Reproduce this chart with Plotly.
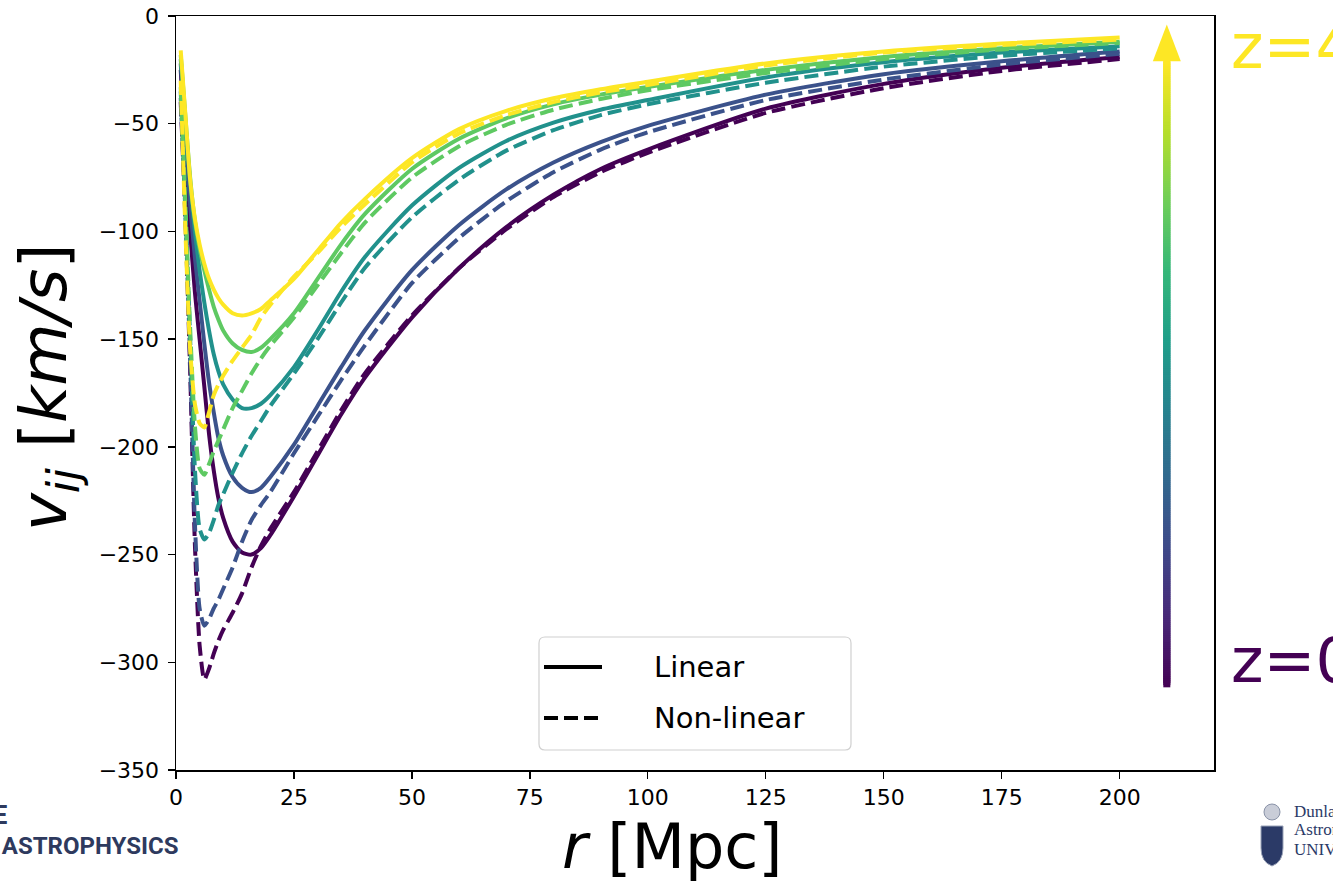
import numpy as np
import plotly.graph_objects as go

# ---------------- data ----------------
r = [1, 2, 3, 4, 5, 6, 7, 8, 9, 10, 12, 14, 16, 18, 20, 25, 30, 35, 40,
     50, 60, 70, 80, 90, 100, 125, 150, 175, 200]

redshifts = [0, 1, 2, 3, 4]
colors = ["#440154", "#3b528b", "#21918c", "#5ec962", "#fde725"]

# linear theory (solid)
lin_z0 = [-25, -65, -100, -128, -150, -172, -194, -211, -224, -233, -244, -249, -250, -247, -241,
          -223, -204, -185, -168, -140, -117, -98, -83, -71, -62, -43, -31.5, -24, -19]
lin_z1 = [-22, -57, -88, -112, -132, -152, -170, -184, -196, -204, -214, -219, -221, -219, -214,
          -199, -181, -163, -146, -118, -97, -80.5, -68, -58.5, -51, -36.5, -27, -21, -16.5]
lin_z2 = [-20, -50, -78, -100, -118, -133, -146, -157, -165, -171, -178, -182, -182, -180, -176,
          -163, -146, -128, -112, -88, -70.5, -58, -49.5, -43.5, -39, -28.5, -21.5, -17, -14]
lin_z3 = [-18, -47, -75, -95, -108, -118, -127, -135, -141, -146, -152, -155, -156, -154, -150,
          -138, -122, -106, -92, -71, -57, -47.5, -41, -36.5, -33, -25, -19, -15, -12]
lin_z4 = [-16, -46, -76, -94, -106, -115, -122, -127, -131, -134, -138, -139, -138, -136, -132,
          -122, -109, -96, -85, -66, -52.5, -44, -38.2, -34, -30.5, -22, -16.5, -12.8, -10]

# non-linear (dashed)
nl_z0 = [-40, -95, -165, -245, -292, -308, -303, -296, -290, -285, -277, -268, -256, -246, -238,
         -221, -202, -183, -166, -139, -117, -99, -84, -72.5, -63.5, -45, -33.5, -25.5, -20]
nl_z1 = [-38, -92, -160, -235, -275, -283, -280, -275, -271, -266, -256, -244, -234, -227, -221,
         -203, -186, -169, -153, -124, -103, -86, -72.5, -62, -54, -39, -29.5, -22.5, -17.5]
nl_z2 = [-35, -90, -150, -210, -238, -243, -240, -234, -227, -222, -212, -203, -195, -188, -181,
         -166, -150, -133, -117, -93.5, -76, -62.5, -53, -46, -41, -31, -23.5, -18.5, -15]
nl_z3 = [-33, -88, -145, -190, -210, -213, -208, -202, -197, -192, -182, -174, -166, -159, -153,
         -140, -125, -110, -96, -75, -60.5, -50.5, -43.5, -38.5, -34.5, -26.5, -20, -15.5, -12.5]
nl_z4 = [-30, -100, -155, -180, -189, -191, -184, -176, -171, -167, -160, -154, -148, -140, -134,
         -121, -110, -98, -87.5, -68, -54.5, -46, -40, -35.5, -32, -23, -17, -13.5, -11]

linear = [lin_z0, lin_z1, lin_z2, lin_z3, lin_z4]
nonlinear = [nl_z0, nl_z1, nl_z2, nl_z3, nl_z4]

x_ticks = [0, 25, 50, 75, 100, 125, 150, 175, 200]
y_ticks = [0, -50, -100, -150, -200, -250, -300, -350]

# redshift arrow (data coordinates)
arrow_x = 210
arrow_bottom = -310
arrow_head_base = -21
arrow_tip = -4

# ---------------- figure geometry ----------------
W, H = 1333, 887
L, R, T, B = 176, 119, 16, 117
PW, PH = W - L - R, H - T - B


def px(xp):
    return (xp - L) / PW


def py(yp):
    return (H - B - yp) / PH


fig = go.Figure()

DASH = "14px,6px"
LW = 4
for i, z in enumerate(redshifts):
    fig.add_trace(go.Scatter(
        x=r, y=linear[i], mode="lines", name=f"Linear z={z}",
        line=dict(color=colors[i], width=LW, shape="spline", smoothing=0.7),
        showlegend=False, hoverinfo="skip"))
    fig.add_trace(go.Scatter(
        x=r, y=nonlinear[i], mode="lines", name=f"Non-linear z={z}",
        line=dict(color=colors[i], width=LW, dash=DASH, shape="spline", smoothing=0.6),
        showlegend=False, hoverinfo="skip"))

# gradient arrow shaft
shaft_y = np.arange(arrow_bottom, arrow_head_base + 1, 1.0)
fig.add_trace(go.Scatter(
    x=[arrow_x] * len(shaft_y), y=shaft_y, mode="markers",
    marker=dict(symbol="square", size=7, color=shaft_y, colorscale="Viridis",
                cmin=arrow_bottom, cmax=arrow_head_base, line=dict(width=0)),
    showlegend=False, hoverinfo="skip"))

shapes = []
# arrow head
hw = 14 / (PW / 220)
shapes.append(dict(type="path", xref="x", yref="y",
                   path=f"M {arrow_x - hw},{arrow_head_base} L {arrow_x + hw},{arrow_head_base} "
                        f"L {arrow_x},{arrow_tip} Z",
                   fillcolor="#fde725", line=dict(width=0)))

# legend (matplotlib style)
bx0, bx1, by0, by1, rad = 539, 851, 637, 750, 6
shapes.append(dict(
    type="path", xref="paper", yref="paper",
    path=(f"M {px(bx0 + rad)},{py(by0)} L {px(bx1 - rad)},{py(by0)} "
          f"Q {px(bx1)},{py(by0)} {px(bx1)},{py(by0 + rad)} L {px(bx1)},{py(by1 - rad)} "
          f"Q {px(bx1)},{py(by1)} {px(bx1 - rad)},{py(by1)} L {px(bx0 + rad)},{py(by1)} "
          f"Q {px(bx0)},{py(by1)} {px(bx0)},{py(by1 - rad)} L {px(bx0)},{py(by0 + rad)} "
          f"Q {px(bx0)},{py(by0)} {px(bx0 + rad)},{py(by0)} Z"),
    fillcolor="rgba(255,255,255,0.8)", line=dict(color="#d0d0d0", width=1.2)))
shapes.append(dict(type="line", xref="paper", yref="paper",
                   x0=px(544), x1=px(602), y0=py(667), y1=py(667),
                   line=dict(color="black", width=LW)))
shapes.append(dict(type="line", xref="paper", yref="paper",
                   x0=px(544), x1=px(602), y0=py(718), y1=py(718),
                   line=dict(color="black", width=LW, dash=DASH)))

# crest (bottom right logo)
cx0, cx1, cy0, cy1 = 1261, 1283, 826, 866
shapes.append(dict(type="path", xref="paper", yref="paper",
                   path=(f"M {px(cx0)},{py(cy0)} L {px(cx1)},{py(cy0)} L {px(cx1)},{py(cy0 + 22)} "
                         f"Q {px(cx1)},{py(cy1 - 4)} {px((cx0 + cx1) / 2)},{py(cy1)} "
                         f"Q {px(cx0)},{py(cy1 - 4)} {px(cx0)},{py(cy0 + 22)} Z"),
                   fillcolor="#2b3a67", line=dict(color="#9aa3b8", width=1)))
shapes.append(dict(type="circle", xref="paper", yref="paper",
                   x0=px(1264), x1=px(1280), y0=py(820), y1=py(804),
                   fillcolor="#c9cdd8", line=dict(color="#8a93a8", width=1)))

annotations = []
annotations.append(dict(text="Linear", x=px(652), y=py(667), xref="paper", yref="paper",
                        xanchor="left", yanchor="middle", showarrow=False,
                        font=dict(family="DejaVu Sans", size=29, color="black")))
annotations.append(dict(text="Non-linear", x=px(652), y=py(718), xref="paper", yref="paper",
                        xanchor="left", yanchor="middle", showarrow=False,
                        font=dict(family="DejaVu Sans", size=29, color="black")))
# axis titles
annotations.append(dict(text="<i>v<sub>ij</sub></i> [<i>km/s</i>]", x=px(48), y=py(388),
                        xref="paper", yref="paper", textangle=-90, showarrow=False,
                        xanchor="center", yanchor="middle",
                        font=dict(family="DejaVu Sans", size=64, color="black")))
annotations.append(dict(text="<i>r</i> [Mpc]", x=px(672), y=py(846),
                        xref="paper", yref="paper", showarrow=False,
                        xanchor="center", yanchor="middle",
                        font=dict(family="DejaVu Sans", size=62, color="black")))
# redshift labels
annotations.append(dict(text="z=4", x=px(1229), y=py(46), xref="paper", yref="paper",
                        xanchor="left", yanchor="middle", showarrow=False,
                        font=dict(family="DejaVu Sans", size=62, color="#fde725")))
annotations.append(dict(text="z=0", x=px(1229), y=py(660), xref="paper", yref="paper",
                        xanchor="left", yanchor="middle", showarrow=False,
                        font=dict(family="DejaVu Sans", size=62, color="#440154")))
# logos (cropped in the reference)
annotations.append(dict(text="<b>INSTITUTE</b>", x=px(9), y=py(815), xref="paper", yref="paper",
                        xanchor="right", yanchor="middle", showarrow=False,
                        font=dict(family="Liberation Sans Narrow, Roboto", size=25, color="#2e3a5e")))
annotations.append(dict(text="<b>&amp; ASTROPHYSICS</b>", x=px(180), y=py(846), xref="paper", yref="paper",
                        xanchor="right", yanchor="middle", showarrow=False,
                        font=dict(family="Liberation Sans Narrow, Roboto", size=24, color="#2e3a5e")))
for txt, yy in [("Dunlap Institute", 811), ("Astronomy &amp; Astrophysics", 830),
                ("UNIVERSITY OF TORONTO", 850)]:
    annotations.append(dict(text=txt, x=px(1292), y=py(yy), xref="paper", yref="paper",
                            xanchor="left", yanchor="middle", showarrow=False,
                            font=dict(family="Liberation Serif", size=17, color="#2b3a67")))

axis_common = dict(showline=True, linecolor="black", linewidth=1.5, mirror=True,
                   ticks="outside", ticklen=7, tickwidth=1.3, tickcolor="black",
                   showgrid=False, zeroline=False, automargin=False,
                   tickfont=dict(family="DejaVu Sans", size=22, color="black"))

fig.update_layout(
    width=W, height=H,
    margin=dict(l=L, r=R, t=T, b=B, pad=0, autoexpand=False),
    paper_bgcolor="white", plot_bgcolor="white",
    showlegend=False,
    xaxis=dict(range=[0, 220], tickvals=x_ticks, ticktext=[str(v) for v in x_ticks], **axis_common),
    yaxis=dict(range=[-350, 0], tickvals=y_ticks,
               ticktext=[("\u2212" + str(-v)) if v < 0 else str(v) for v in y_ticks],
               ticklabelstandoff=4, **axis_common),
    shapes=shapes, annotations=annotations,
)

fig.write_html("out.html", config={"displayModeBar": False, "staticPlot": True},
               post_script="document.body.style.margin='0px';document.body.style.overflow='hidden';")
